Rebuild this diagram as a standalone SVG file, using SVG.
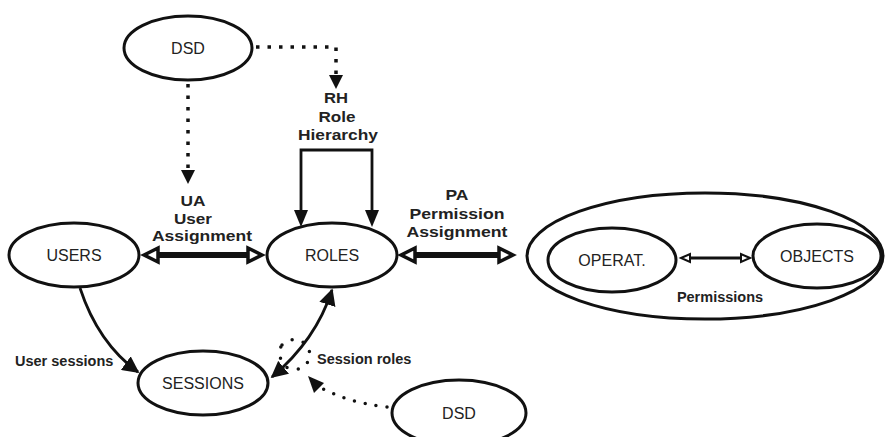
<svg xmlns="http://www.w3.org/2000/svg" width="885" height="437" viewBox="0 0 885 437">
<defs>
<style>
.node{fill:#fff;stroke:#111;stroke-width:3}
.nt{font-family:"Liberation Sans",Arial,sans-serif;font-size:16px;fill:#222;text-anchor:middle}
.lb{font-family:"Liberation Sans",Arial,sans-serif;font-size:15px;font-weight:bold;fill:#222;text-anchor:middle}
.sl{font-family:"Liberation Sans",Arial,sans-serif;font-size:14.5px;font-weight:bold;fill:#222}
.dot{fill:none;stroke:#111;stroke-width:3.5;stroke-dasharray:3.5 8}
.rdot{fill:none;stroke:#111;stroke-width:3.5;stroke-linecap:round;stroke-dasharray:0 11}
.solid{fill:none;stroke:#111;stroke-width:2.8}
.shaft{stroke:#111;stroke-width:6}
.head{fill:#fff;stroke:#111;stroke-width:3.5;stroke-linejoin:miter}
.tri{fill:#111}
</style>
<marker id="ah" viewBox="0 0 10 10" refX="9" refY="5" markerWidth="6" markerHeight="6" orient="auto-start-reverse" markerUnits="strokeWidth">
<path d="M0,0 L10,5 L0,10 Z" fill="#111"/>
</marker>
</defs>
<rect width="885" height="437" fill="#fff"/>

<g id="dsd-top">
<ellipse class="node" cx="188" cy="48" rx="64" ry="32"/>
<text class="nt" x="188" y="54">DSD</text>
</g>
<g id="users">
<ellipse class="node" cx="74" cy="255" rx="65" ry="32"/>
<text class="nt" x="74" y="261">USERS</text>
</g>
<g id="roles">
<ellipse class="node" cx="332" cy="255" rx="65" ry="32"/>
<text class="nt" x="332" y="261">ROLES</text>
</g>
<g id="permissions">
<ellipse class="node" cx="705" cy="256" rx="178" ry="63"/>
<text class="sl" x="720" y="302" text-anchor="middle">Permissions</text>
</g>
<g id="operat">
<ellipse class="node" cx="612" cy="260" rx="64" ry="32"/>
<text class="nt" x="612" y="266">OPERAT.</text>
</g>
<g id="objects">
<ellipse class="node" cx="817" cy="256" rx="64" ry="32"/>
<text class="nt" x="817" y="262">OBJECTS</text>
</g>
<g id="sessions">
<ellipse class="node" cx="203" cy="383" rx="65" ry="32"/>
<text class="nt" x="203" y="389">SESSIONS</text>
</g>
<g id="dsd-bottom">
<ellipse class="node" cx="459" cy="413" rx="67" ry="33"/>
<text class="nt" x="459" y="419">DSD</text>
</g>

<g id="connectors">
<line class="dot" x1="188" y1="84" x2="188" y2="170"/>
<polygon class="tri" points="181,170 195,170 188,184"/>
<polyline class="dot" points="256,47 336,47 336,76"/>
<polygon class="tri" points="329,75 343,75 336,89"/>
<polyline class="solid" points="301,212 301,150 372,150 372,212"/>
<polygon class="tri" points="294,210 308,210 301,227"/>
<polygon class="tri" points="365,210 379,210 372,227"/>
<line class="shaft" x1="156" y1="255" x2="250" y2="255"/>
<polygon class="head" points="144,255 158,248 158,262"/>
<polygon class="head" points="262,255 248,248 248,262"/>
<line class="shaft" x1="413" y1="255" x2="500" y2="255"/>
<polygon class="head" points="401,255 415,248 415,262"/>
<polygon class="head" points="513,255 499,248 499,262"/>
<line x1="688" y1="258" x2="743" y2="258" stroke="#111" stroke-width="3"/>
<polygon class="head" points="681,258 690,254 690,262" style="stroke-width:2"/>
<polygon class="head" points="750,258 741,254 741,262" style="stroke-width:2"/>
<path class="solid" d="M80,288 Q98,343 138,372" marker-end="url(#ah)"/>
<path class="solid" d="M272,377 Q316,340 332,290" marker-start="url(#ah)" marker-end="url(#ah)"/>
<path class="rdot" d="M282,345 Q290,338 299,340 Q309,344 310,355 Q308,367 298,369 Q285,371 281,360 Q278,350 282,345" style="stroke-dasharray:0 11.5"/>
<path class="rdot" d="M387,407 Q345,402 318,386"/>
<polygon class="tri" points="308,376 324,383 314,393"/>
</g>

<g id="labels">
<text class="lb" x="336" y="103" textLength="24" lengthAdjust="spacingAndGlyphs">RH</text>
<text class="lb" x="337" y="122" textLength="37" lengthAdjust="spacingAndGlyphs">Role</text>
<text class="lb" x="338" y="140" textLength="80" lengthAdjust="spacingAndGlyphs">Hierarchy</text>
<text class="lb" x="193" y="206" textLength="25" lengthAdjust="spacingAndGlyphs">UA</text>
<text class="lb" x="193" y="223.5" textLength="38" lengthAdjust="spacingAndGlyphs">User</text>
<text class="lb" x="202" y="241" textLength="100" lengthAdjust="spacingAndGlyphs">Assignment</text>
<text class="lb" x="457" y="200" textLength="23" lengthAdjust="spacingAndGlyphs">PA</text>
<text class="lb" x="457" y="219" textLength="95" lengthAdjust="spacingAndGlyphs">Permission</text>
<text class="lb" x="457" y="237" textLength="101" lengthAdjust="spacingAndGlyphs">Assignment</text>
<text class="sl" x="15" y="366">User sessions</text>
<text class="sl" x="317" y="364">Session roles</text>
</g>
</svg>
